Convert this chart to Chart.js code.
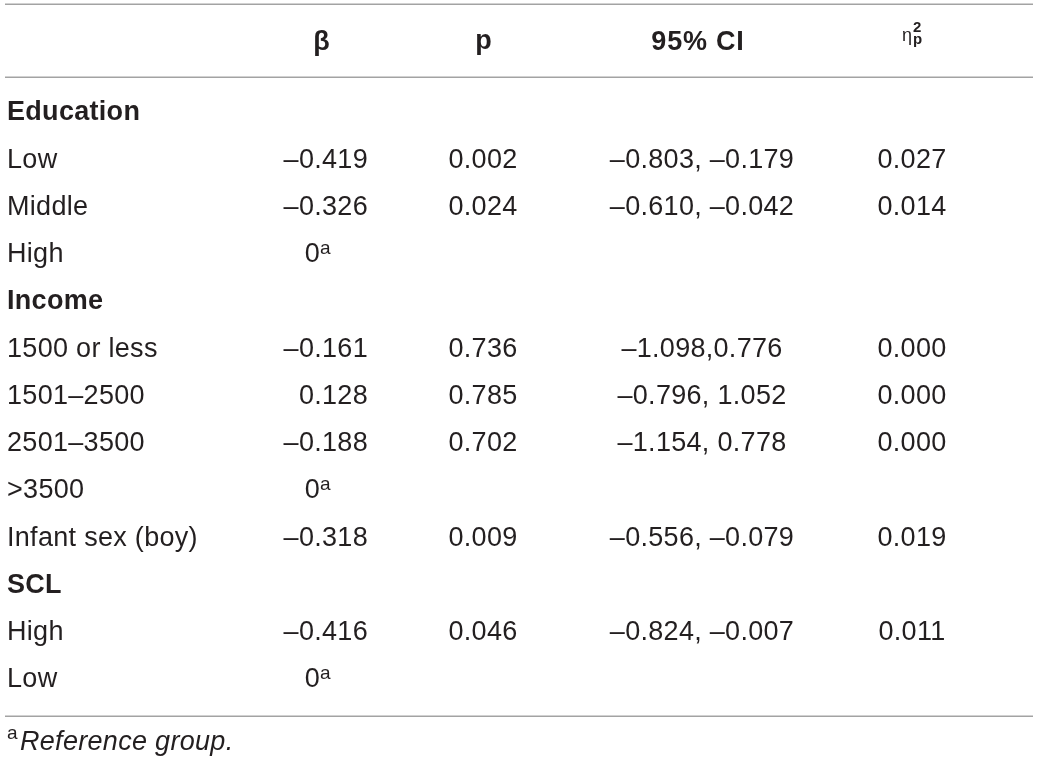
<!DOCTYPE html>
<html><head><meta charset="utf-8">
<script src="https://cdn.jsdelivr.net/npm/chart.js@4.4.0/dist/chart.umd.min.js"></script>
<style>html,body{margin:0;padding:0;background:#fff}#wrap{width:1039px;height:766px;position:relative}</style>
</head><body><div id="wrap"><canvas id="c"></canvas></div>
<script>
// ---- data ----
const rowLabels = ['Education','Low','Middle','High','Income','1500 or less','1501–2500','2501–3500','>3500','Infant sex (boy)','SCL','High','Low'];
const groupRows = [0,4,10];
const referenceRows = [3,8,12];
const columnHeaders = ['β','p','95% CI','η'];
const betaValues = [null,-0.419,-0.326,0,null,-0.161,0.128,-0.188,0,-0.318,null,-0.416,0];
const pValues = [null,0.002,0.024,null,null,0.736,0.785,0.702,null,0.009,null,0.046,null];
const ciLower = [null,-0.803,-0.610,null,null,-1.098,-0.796,-1.154,null,-0.556,null,-0.824,null];
const ciUpper = [null,-0.179,-0.042,null,null,0.776,1.052,0.778,null,-0.079,null,-0.007,null];
const ciNoSpaceRows = [5];
const etaValues = [null,0.027,0.014,null,null,0.000,0.000,0.000,null,0.019,null,0.011,null];
const footnoteMark = 'a';
const footnoteText = 'Reference group.';

// ---- styling ----
const FAMILY = '"Liberation Sans", Arial, sans-serif';
const TEXT = '#231f20';
const RULE = '#a3a3a3';
const SIZE = 27;
const SPACING = '0.3px';
const colX = {beta: 368, p: 483, ci: 702, eta: 912};
const headX = {beta: 322, p: 484, ci: 698, eta: 902};

const fmt = v => (v < 0 ? '–' : '') + Math.abs(v).toFixed(3);

function makeData(values, x, toText) {
  const out = [];
  values.forEach((v, i) => { if (v !== null && v !== undefined) out.push({x: x, y: i, text: toText(v, i)}); });
  return out;
}

const datasets = [
  {label: 'β', key: 'beta', align: 'right', data: makeData(betaValues, colX.beta, (v, i) => referenceRows.includes(i) ? 'REF' : fmt(v))},
  {label: 'p', key: 'p', align: 'center', data: makeData(pValues, colX.p, v => fmt(v))},
  {label: '95% CI', key: 'ci', align: 'center', data: makeData(ciLower, colX.ci, (v, i) => fmt(v) + (ciNoSpaceRows.includes(i) ? ',' : ', ') + fmt(ciUpper[i]))},
  {label: 'eta', key: 'eta', align: 'center', data: makeData(etaValues, colX.eta, v => fmt(v))}
].map(d => Object.assign(d, {pointRadius: 0, showLine: false}));

const tablePlugin = {
  id: 'tablePlugin',
  beforeDraw(chart) {
    chart.ctx.letterSpacing = SPACING;
  },
  afterDatasetsDraw(chart) {
    const ctx = chart.ctx;
    const xs = chart.scales.x, ys = chart.scales.y;
    ctx.save();
    ctx.fillStyle = TEXT;
    // rules
    ctx.strokeStyle = RULE;
    ctx.lineWidth = 1.5;
    [-2.3, -0.765, 12.76].forEach(r => {
      const y = Math.round(ys.getPixelForValue(r)) + 0.25;
      ctx.beginPath(); ctx.moveTo(5, y); ctx.lineTo(1033, y); ctx.stroke();
    });
    // header
    const hy = ys.getPixelForValue(-1.5);
    ctx.textBaseline = 'middle';
    ctx.textAlign = 'center';
    ctx.font = 'bold ' + SIZE + 'px ' + FAMILY;
    ctx.letterSpacing = '0.8px';
    ctx.fillText(columnHeaders[0], xs.getPixelForValue(headX.beta), hy);
    ctx.fillText(columnHeaders[1], xs.getPixelForValue(headX.p), hy - 1);
    ctx.fillText(columnHeaders[2], xs.getPixelForValue(headX.ci), hy);
    // eta with sub/superscript
    ctx.letterSpacing = '0px';
    ctx.textAlign = 'left';
    ctx.textBaseline = 'alphabetic';
    const ex = xs.getPixelForValue(headX.eta);
    ctx.font = '18px ' + FAMILY;
    ctx.fillText(columnHeaders[3], ex, hy - 1);
    ctx.font = 'bold 15px ' + FAMILY;
    ctx.fillText('2', ex + 11, hy - 10);
    ctx.fillText('p', ex + 11, hy + 2);
    ctx.letterSpacing = SPACING;
    // body cells
    ctx.textBaseline = 'middle';
    chart.data.datasets.forEach((ds, di) => {
      const meta = chart.getDatasetMeta(di);
      meta.data.forEach((el, j) => {
        const raw = ds.data[j];
        if (raw.text === 'REF') {
          ctx.font = SIZE + 'px ' + FAMILY;
          ctx.textAlign = 'right';
          ctx.textBaseline = 'middle';
          ctx.fillText('0', el.x - 48, el.y);
          ctx.font = '19px ' + FAMILY;
          ctx.textAlign = 'left';
          ctx.textBaseline = 'alphabetic';
          ctx.fillText(footnoteMark, el.x - 48, el.y - 1);
          ctx.textBaseline = 'middle';
        } else {
          ctx.font = SIZE + 'px ' + FAMILY;
          ctx.textAlign = ds.align;
          ctx.fillText(raw.text, el.x, el.y);
        }
      });
    });
    // footnote
    const fy = ys.getPixelForValue(13.33);
    ctx.textAlign = 'left';
    ctx.textBaseline = 'alphabetic';
    ctx.font = '19px ' + FAMILY;
    ctx.fillText(footnoteMark, 7, fy - 4);
    ctx.textBaseline = 'middle';
    ctx.font = 'italic ' + SIZE + 'px ' + FAMILY;
    ctx.fillText(footnoteText, 20, fy);
    ctx.restore();
  },
  afterDraw(chart) { chart.ctx.letterSpacing = '0px'; }
};

new Chart(document.getElementById('c'), {
  type: 'scatter',
  data: {datasets: datasets},
  options: {
    responsive: true,
    maintainAspectRatio: false,
    animation: false,
    events: [],
    layout: {padding: {left: 7, right: 6, top: 113, bottom: 86}},
    plugins: {legend: {display: false}, tooltip: {enabled: false}},
    scales: {
      x: {type: 'linear', display: false, min: 207, max: 1033},
      y: {
        type: 'linear', reverse: true, min: 0, max: rowLabels.length - 1,
        grid: {display: false}, border: {display: false},
        afterBuildTicks: s => { s.ticks = rowLabels.map((_, i) => ({value: i})); },
        afterFit: s => { s.width = 200; },
        ticks: {
          crossAlign: 'far',
          padding: 0,
          color: TEXT,
          autoSkip: false,
          callback: v => rowLabels[v],
          font: c => ({family: FAMILY, size: SIZE, weight: groupRows.includes(c.index) ? 'bold' : 'normal'})
        }
      }
    }
  },
  plugins: [tablePlugin]
});
</script></body></html>
